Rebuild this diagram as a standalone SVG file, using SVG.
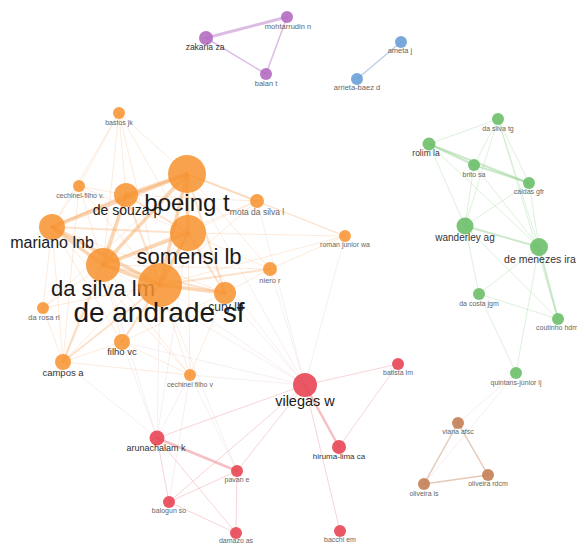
<svg xmlns="http://www.w3.org/2000/svg" width="577" height="548" viewBox="0 0 577 548">
<style>
text{font-family:"Liberation Sans",Arial,sans-serif;text-anchor:middle}
.big{fill:#1a1a1a}
.mid{fill:#333}
.sm{fill:#666}
.o circle{fill:#f7922e;fill-opacity:.85}
.g circle{fill:#6dbf6a;fill-opacity:.9}
.r circle{fill:#e84654;fill-opacity:.9}
.p circle{fill:#b46bc0;fill-opacity:.9}
.b circle{fill:#6a9ed6;fill-opacity:.9}
.w circle{fill:#c37f57;fill-opacity:.9}
#edges line{stroke-linecap:round}
.eo1{stroke:#f7a45c;stroke-opacity:.22;stroke-width:1}
.eo2{stroke:#f7a45c;stroke-opacity:.32;stroke-width:2}
.eo3{stroke:#f7a45c;stroke-opacity:.45;stroke-width:3.5}
.eg1{stroke:#8fcf8c;stroke-opacity:.3;stroke-width:1}
.eg2{stroke:#8fcf8c;stroke-opacity:.45;stroke-width:2}
.er1{stroke:#e8707a;stroke-opacity:.3;stroke-width:1}
.er2{stroke:#e8707a;stroke-opacity:.45;stroke-width:2.5}
.ep{stroke:#c48fd0;stroke-opacity:.6;stroke-width:1.5}
.ep2{stroke:#c48fd0;stroke-opacity:.6;stroke-width:3}
.eb{stroke:#9dbde0;stroke-opacity:.7;stroke-width:1.5}
.ew{stroke:#d4a587;stroke-opacity:.6;stroke-width:1.5}
.ef{stroke:#d9a7a7;stroke-opacity:.18;stroke-width:1}
</style>
<g id="edges">
<line class="eo3" x1="187" y1="174" x2="188" y2="233"/>
<line class="eo3" x1="187" y1="174" x2="160" y2="285"/>
<line class="eo3" x1="187" y1="174" x2="103" y2="265"/>
<line class="eo3" x1="187" y1="174" x2="126" y2="195"/>
<line class="eo3" x1="187" y1="174" x2="52" y2="227"/>
<line class="eo3" x1="188" y1="233" x2="160" y2="285"/>
<line class="eo3" x1="188" y1="233" x2="103" y2="265"/>
<line class="eo3" x1="160" y1="285" x2="103" y2="265"/>
<line class="eo3" x1="160" y1="285" x2="52" y2="227"/>
<line class="eo3" x1="103" y1="265" x2="52" y2="227"/>
<line class="eo2" x1="126" y1="195" x2="52" y2="227"/>
<line class="eo3" x1="126" y1="195" x2="103" y2="265"/>
<line class="eo2" x1="126" y1="195" x2="160" y2="285"/>
<line class="eo2" x1="126" y1="195" x2="188" y2="233"/>
<line class="eo3" x1="225" y1="293" x2="160" y2="285"/>
<line class="eo2" x1="225" y1="293" x2="188" y2="233"/>
<line class="eo2" x1="225" y1="293" x2="187" y2="174"/>
<line class="eo2" x1="225" y1="293" x2="103" y2="265"/>
<line class="eo2" x1="188" y1="233" x2="52" y2="227"/>
<line class="eo2" x1="270" y1="269" x2="160" y2="285"/>
<line class="eo1" x1="270" y1="269" x2="188" y2="233"/>
<line class="eo1" x1="270" y1="269" x2="187" y2="174"/>
<line class="eo1" x1="270" y1="269" x2="103" y2="265"/>
<line class="eo1" x1="270" y1="269" x2="225" y2="293"/>
<line class="eo2" x1="257" y1="201" x2="187" y2="174"/>
<line class="eo1" x1="257" y1="201" x2="188" y2="233"/>
<line class="eo1" x1="257" y1="201" x2="160" y2="285"/>
<line class="eo1" x1="257" y1="201" x2="126" y2="195"/>
<line class="eo1" x1="257" y1="201" x2="345" y2="236"/>
<line class="eo1" x1="257" y1="201" x2="103" y2="265"/>
<line class="eo1" x1="345" y1="236" x2="188" y2="233"/>
<line class="eo1" x1="345" y1="236" x2="160" y2="285"/>
<line class="eo1" x1="345" y1="236" x2="187" y2="174"/>
<line class="eo1" x1="345" y1="236" x2="270" y2="269"/>
<line class="eo2" x1="122" y1="342" x2="160" y2="285"/>
<line class="eo1" x1="122" y1="342" x2="103" y2="265"/>
<line class="eo1" x1="122" y1="342" x2="188" y2="233"/>
<line class="eo1" x1="122" y1="342" x2="63" y2="362"/>
<line class="eo1" x1="122" y1="342" x2="52" y2="227"/>
<line class="eo2" x1="63" y1="362" x2="160" y2="285"/>
<line class="eo2" x1="63" y1="362" x2="103" y2="265"/>
<line class="eo1" x1="63" y1="362" x2="52" y2="227"/>
<line class="eo1" x1="63" y1="362" x2="188" y2="233"/>
<line class="eo1" x1="63" y1="362" x2="43" y2="308"/>
<line class="eo1" x1="63" y1="362" x2="126" y2="195"/>
<line class="eo1" x1="63" y1="362" x2="190" y2="375"/>
<line class="eo1" x1="43" y1="308" x2="103" y2="265"/>
<line class="eo1" x1="43" y1="308" x2="160" y2="285"/>
<line class="eo1" x1="43" y1="308" x2="52" y2="227"/>
<line class="eo1" x1="43" y1="308" x2="187" y2="174"/>
<line class="eo1" x1="119" y1="113" x2="187" y2="174"/>
<line class="eo1" x1="119" y1="113" x2="126" y2="195"/>
<line class="eo1" x1="119" y1="113" x2="103" y2="265"/>
<line class="eo1" x1="119" y1="113" x2="160" y2="285"/>
<line class="eo1" x1="119" y1="113" x2="188" y2="233"/>
<line class="eo1" x1="119" y1="113" x2="52" y2="227"/>
<line class="eo1" x1="119" y1="113" x2="79" y2="186"/>
<line class="eo1" x1="79" y1="186" x2="52" y2="227"/>
<line class="eo1" x1="79" y1="186" x2="103" y2="265"/>
<line class="eo1" x1="79" y1="186" x2="160" y2="285"/>
<line class="eo1" x1="79" y1="186" x2="126" y2="195"/>
<line class="eo1" x1="79" y1="186" x2="63" y2="362"/>
<line class="eo1" x1="79" y1="186" x2="188" y2="233"/>
<line class="eo1" x1="190" y1="375" x2="160" y2="285"/>
<line class="eo1" x1="190" y1="375" x2="103" y2="265"/>
<line class="eo1" x1="190" y1="375" x2="188" y2="233"/>
<line class="eo1" x1="190" y1="375" x2="122" y2="342"/>
<line class="eo1" x1="190" y1="375" x2="52" y2="227"/>
<line class="eo1" x1="190" y1="375" x2="225" y2="293"/>
<line class="eo1" x1="52" y1="227" x2="225" y2="293"/>
<line class="eo1" x1="122" y1="342" x2="225" y2="293"/>
<line class="ef" x1="305" y1="385" x2="160" y2="285"/>
<line class="ef" x1="305" y1="385" x2="188" y2="233"/>
<line class="ef" x1="305" y1="385" x2="187" y2="174"/>
<line class="ef" x1="305" y1="385" x2="103" y2="265"/>
<line class="ef" x1="305" y1="385" x2="225" y2="293"/>
<line class="ef" x1="305" y1="385" x2="270" y2="269"/>
<line class="ef" x1="305" y1="385" x2="257" y2="201"/>
<line class="ef" x1="305" y1="385" x2="345" y2="236"/>
<line class="ef" x1="305" y1="385" x2="190" y2="375"/>
<line class="ef" x1="305" y1="385" x2="122" y2="342"/>
<line class="ef" x1="157" y1="438" x2="160" y2="285"/>
<line class="ef" x1="157" y1="438" x2="103" y2="265"/>
<line class="ef" x1="157" y1="438" x2="188" y2="233"/>
<line class="ef" x1="157" y1="438" x2="190" y2="375"/>
<line class="ef" x1="157" y1="438" x2="122" y2="342"/>
<line class="ef" x1="157" y1="438" x2="63" y2="362"/>
<line class="ef" x1="237" y1="471" x2="160" y2="285"/>
<line class="ef" x1="237" y1="471" x2="190" y2="375"/>
<line class="ef" x1="169" y1="502" x2="190" y2="375"/>
<line class="ef" x1="516" y1="373" x2="458" y2="423"/>
<line class="ef" x1="516" y1="373" x2="424" y2="484"/>
<line class="ep2" x1="206" y1="38" x2="287" y2="17"/>
<line class="ep" x1="206" y1="38" x2="266" y2="74"/>
<line class="ep" x1="287" y1="17" x2="266" y2="74"/>
<line class="eb" x1="401" y1="42" x2="357" y2="79"/>
<line class="eg2" x1="429" y1="144" x2="474" y2="165"/>
<line class="eg2" x1="429" y1="144" x2="529" y2="183"/>
<line class="eg1" x1="429" y1="144" x2="498" y2="119"/>
<line class="eg1" x1="429" y1="144" x2="465" y2="226"/>
<line class="eg1" x1="429" y1="144" x2="539" y2="247"/>
<line class="eg1" x1="474" y1="165" x2="498" y2="119"/>
<line class="eg2" x1="474" y1="165" x2="529" y2="183"/>
<line class="eg1" x1="474" y1="165" x2="465" y2="226"/>
<line class="eg1" x1="474" y1="165" x2="539" y2="247"/>
<line class="eg1" x1="529" y1="183" x2="465" y2="226"/>
<line class="eg1" x1="529" y1="183" x2="539" y2="247"/>
<line class="eg1" x1="498" y1="119" x2="465" y2="226"/>
<line class="eg1" x1="498" y1="119" x2="539" y2="247"/>
<line class="eg1" x1="498" y1="119" x2="529" y2="183"/>
<line class="eg2" x1="465" y1="226" x2="539" y2="247"/>
<line class="eg1" x1="465" y1="226" x2="479" y2="294"/>
<line class="eg1" x1="539" y1="247" x2="479" y2="294"/>
<line class="eg2" x1="539" y1="247" x2="558" y2="319"/>
<line class="eg1" x1="539" y1="247" x2="516" y2="373"/>
<line class="eg1" x1="479" y1="294" x2="558" y2="319"/>
<line class="eg1" x1="479" y1="294" x2="516" y2="373"/>
<line class="eg1" x1="465" y1="226" x2="558" y2="319"/>
<line class="eg1" x1="498" y1="119" x2="558" y2="319"/>
<line class="er1" x1="305" y1="385" x2="157" y2="438"/>
<line class="er1" x1="305" y1="385" x2="237" y2="471"/>
<line class="er1" x1="305" y1="385" x2="169" y2="502"/>
<line class="er1" x1="305" y1="385" x2="398" y2="364"/>
<line class="er2" x1="305" y1="385" x2="339" y2="447"/>
<line class="er1" x1="305" y1="385" x2="340" y2="531"/>
<line class="er1" x1="398" y1="364" x2="339" y2="447"/>
<line class="er2" x1="157" y1="438" x2="237" y2="471"/>
<line class="er1" x1="157" y1="438" x2="169" y2="502"/>
<line class="er1" x1="157" y1="438" x2="236" y2="533"/>
<line class="er1" x1="169" y1="502" x2="237" y2="471"/>
<line class="er1" x1="169" y1="502" x2="236" y2="533"/>
<line class="er1" x1="237" y1="471" x2="236" y2="533"/>
<line class="ew" x1="458" y1="423" x2="424" y2="484"/>
<line class="ew" x1="458" y1="423" x2="488" y2="475"/>
<line class="ew" x1="424" y1="484" x2="488" y2="475"/>
</g>
<g id="n-bastos-jk" class="o"><circle cx="119" cy="113" r="6"/><text class="sm" x="119" y="125" font-size="7">bastos jk</text></g>
<g id="n-cechinel-filho-v1" class="o"><circle cx="79" cy="186" r="6"/><text class="sm" x="80" y="198" font-size="7">cechinel-filho v.</text></g>
<g id="n-de-souza-p" class="o"><circle cx="126" cy="195" r="12"/><text class="big" x="127" y="215" font-size="14">de souza p</text></g>
<g id="n-boeing-t" class="o"><circle cx="187" cy="174" r="19"/><text class="big" x="187" y="211" font-size="24">boeing t</text></g>
<g id="n-mota-da-silva-l" class="o"><circle cx="257" cy="201" r="7"/><text class="sm" x="257" y="215" font-size="8.5">mota da silva l</text></g>
<g id="n-roman-junior-wa" class="o"><circle cx="345" cy="236" r="6"/><text class="sm" x="345" y="247" font-size="7">roman junior wa</text></g>
<g id="n-somensi-lb" class="o"><circle cx="188" cy="233" r="18"/><text class="big" x="189" y="264" font-size="22">somensi lb</text></g>
<g id="n-niero-r" class="o"><circle cx="270" cy="269" r="7"/><text class="sm" x="270" y="283" font-size="7.5">niero r</text></g>
<g id="n-cury-lb" class="o"><circle cx="225" cy="293" r="11"/><text class="mid" x="226" y="311" font-size="12">cury lb</text></g>
<g id="n-mariano-lnb" class="o"><circle cx="52" cy="227" r="13"/><text class="big" x="52" y="248" font-size="16">mariano lnb</text></g>
<g id="n-da-silva-lm" class="o"><circle cx="103" cy="265" r="17"/><text class="big" x="103" y="296" font-size="22">da silva lm</text></g>
<g id="n-de-andrade-sf" class="o"><circle cx="160" cy="285" r="22"/><text class="big" x="159" y="322" font-size="28">de andrade sf</text></g>
<g id="n-da-rosa-rl" class="o"><circle cx="43" cy="308" r="6"/><text class="sm" x="44" y="320" font-size="7.5">da rosa rl</text></g>
<g id="n-filho-vc" class="o"><circle cx="122" cy="342" r="8"/><text class="mid" x="122" y="355" font-size="9.5">filho vc</text></g>
<g id="n-campos-a" class="o"><circle cx="63" cy="362" r="8"/><text class="mid" x="63" y="376" font-size="9.5">campos a</text></g>
<g id="n-cechinel-filho-v2" class="o"><circle cx="190" cy="375" r="6"/><text class="sm" x="190" y="387" font-size="7">cechinel filho v</text></g>
<g id="n-zakaria-za" class="p"><circle cx="206" cy="38" r="7"/><text class="mid" x="205" y="50" font-size="8.5">zakaria za</text></g>
<g id="n-mohtarrudin-n" class="p"><circle cx="287" cy="17" r="6"/><text class="sm" x="288" y="29" font-size="7.5">mohtarrudin n</text></g>
<g id="n-balan-t" class="p"><circle cx="266" cy="74" r="6"/><text class="sm" x="266" y="86" font-size="7.5">balan t</text></g>
<g id="n-ameta-j" class="b"><circle cx="401" cy="42" r="6"/><text class="sm" x="400" y="53" font-size="7.5">ameta j</text></g>
<g id="n-arrieta-baez-d" class="b"><circle cx="357" cy="79" r="6"/><text class="sm" x="357" y="90" font-size="7.5">arrieta-baez d</text></g>
<g id="n-da-silva-tg" class="g"><circle cx="498" cy="119" r="6"/><text class="sm" x="498" y="131" font-size="7">da silva tg</text></g>
<g id="n-rolim-la" class="g"><circle cx="429" cy="144" r="6.5"/><text class="mid" x="426" y="156" font-size="8.5">rolim la</text></g>
<g id="n-brito-sa" class="g"><circle cx="474" cy="165" r="6"/><text class="sm" x="474" y="177" font-size="7">brito sa</text></g>
<g id="n-caldas-gfr" class="g"><circle cx="529" cy="183" r="6"/><text class="sm" x="529" y="194" font-size="7">caldas gfr</text></g>
<g id="n-wanderley-ag" class="g"><circle cx="465" cy="226" r="8.5"/><text class="mid" x="465" y="241" font-size="10">wanderley ag</text></g>
<g id="n-de-menezes-ira" class="g"><circle cx="539" cy="247" r="9"/><text class="mid" x="540" y="263" font-size="10.5">de menezes ira</text></g>
<g id="n-da-costa-jgm" class="g"><circle cx="479" cy="294" r="6"/><text class="sm" x="479" y="306" font-size="7">da costa jgm</text></g>
<g id="n-coutinho-hdm" class="g"><circle cx="558" cy="319" r="6"/><text class="sm" x="557" y="330" font-size="7">coutinho hdm</text></g>
<g id="n-quintans-junior-lj" class="g"><circle cx="516" cy="373" r="6"/><text class="sm" x="516" y="385" font-size="7">quintans-júnior lj</text></g>
<g id="n-vilegas-w" class="r"><circle cx="305" cy="385" r="12"/><text class="big" x="305" y="406" font-size="14.5">vilegas w</text></g>
<g id="n-batista-lm" class="r"><circle cx="398" cy="364" r="6"/><text class="sm" x="398" y="375" font-size="7">batista lm</text></g>
<g id="n-arunachalam-k" class="r"><circle cx="157" cy="438" r="7.5"/><text class="mid" x="156" y="451" font-size="9">arunachalam k</text></g>
<g id="n-hiruma-lima-ca" class="r"><circle cx="339" cy="447" r="7"/><text class="mid" x="339" y="459" font-size="8">hiruma-lima ca</text></g>
<g id="n-pavan-e" class="r"><circle cx="237" cy="471" r="6"/><text class="sm" x="237" y="482" font-size="7">pavan e</text></g>
<g id="n-balogun-so" class="r"><circle cx="169" cy="502" r="6"/><text class="sm" x="169" y="513" font-size="7">balogun so</text></g>
<g id="n-bacchi-em" class="r"><circle cx="340" cy="531" r="6"/><text class="sm" x="340" y="542" font-size="7">bacchi em</text></g>
<g id="n-damazo-as" class="r"><circle cx="236" cy="533" r="6"/><text class="sm" x="236" y="543" font-size="7">damazo as</text></g>
<g id="n-viana-afsc" class="w"><circle cx="458" cy="423" r="6"/><text class="sm" x="458" y="434" font-size="7">viana afsc</text></g>
<g id="n-oliveira-rdcm" class="w"><circle cx="488" cy="475" r="6"/><text class="sm" x="488" y="486" font-size="7">oliveira rdcm</text></g>
<g id="n-oliveira-is" class="w"><circle cx="424" cy="484" r="6"/><text class="sm" x="424" y="496" font-size="7">oliveira is</text></g>
</svg>
